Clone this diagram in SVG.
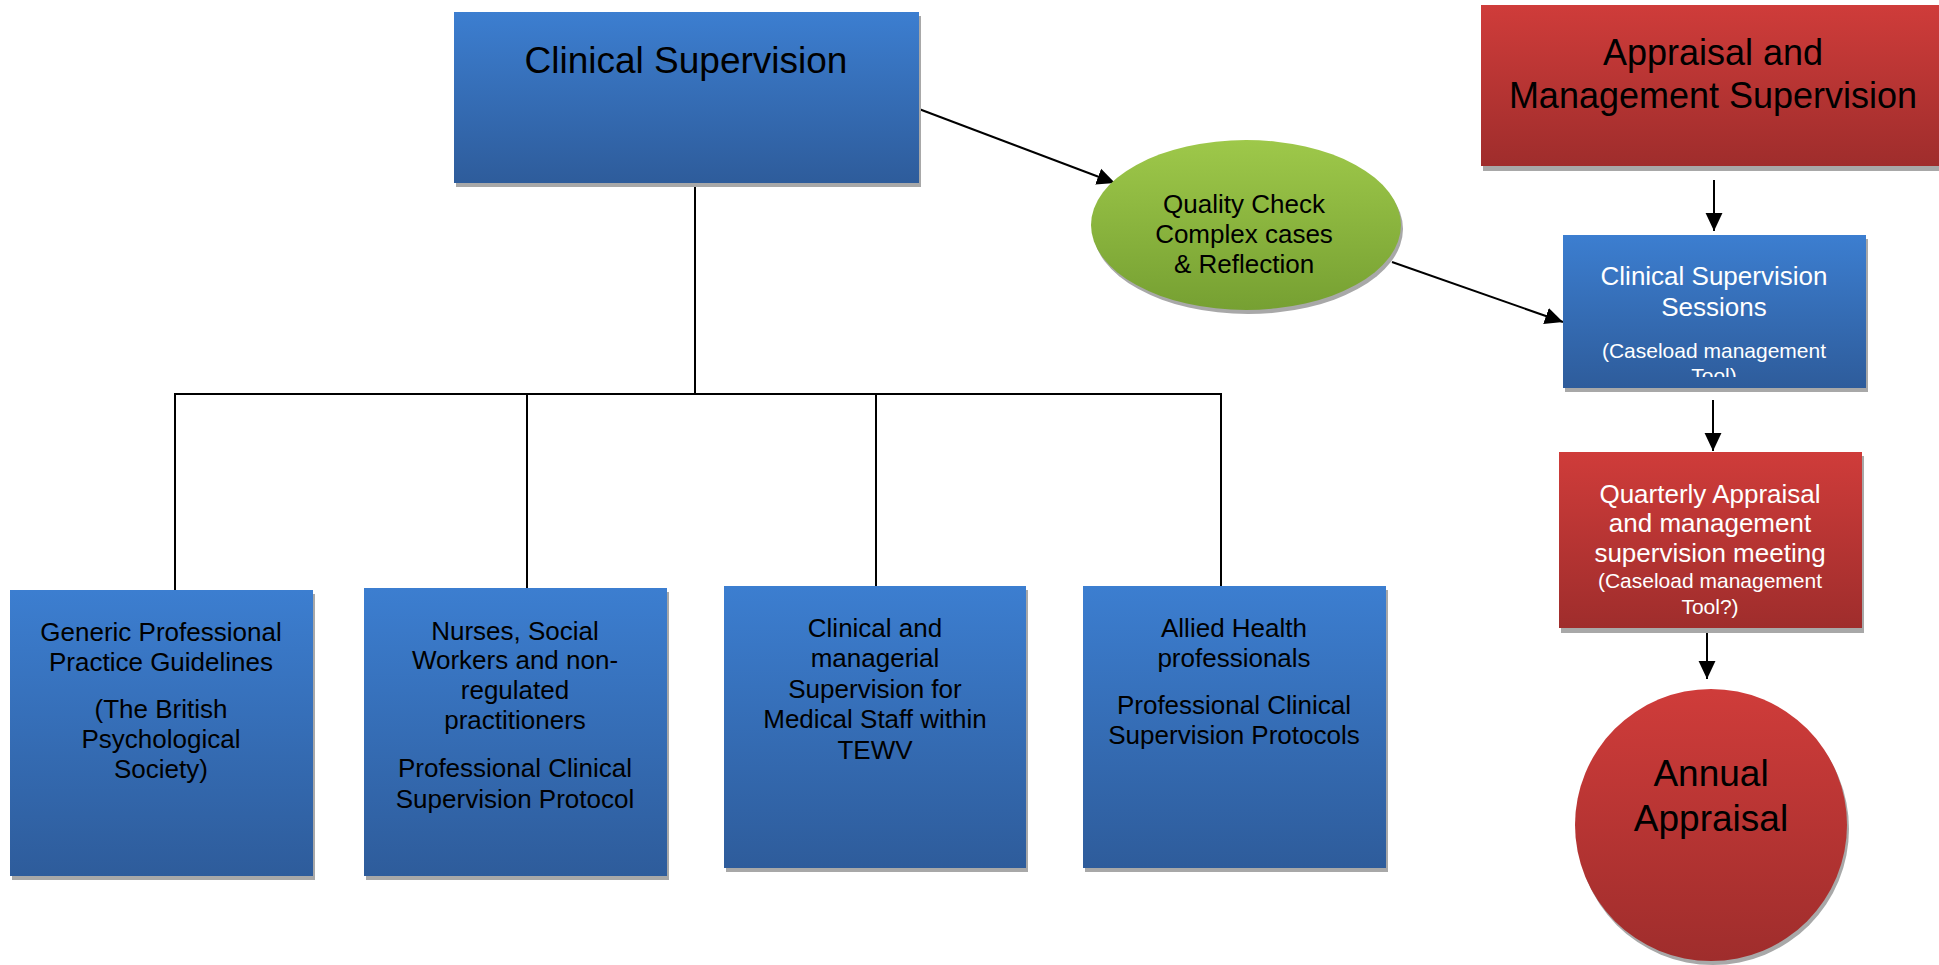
<svg xmlns="http://www.w3.org/2000/svg" width="1939" height="965" viewBox="0 0 1939 965">
<style>
.t{font-family:"Liberation Sans",Arial,sans-serif;text-anchor:middle;fill:#000}
.w{fill:#fff}
.sh{fill:#a8a8a8}
.ln{stroke:#000;stroke-width:2;fill:none}
</style>
<defs>
<linearGradient id="gb" x1="0" y1="0" x2="0" y2="1"><stop offset="0" stop-color="#3c7ed0"/><stop offset="1" stop-color="#2e5c9b"/></linearGradient>
<linearGradient id="gr" x1="0" y1="0" x2="0" y2="1"><stop offset="0" stop-color="#cf3c3a"/><stop offset="1" stop-color="#9f2d2c"/></linearGradient>
<linearGradient id="gg" x1="0" y1="0" x2="0" y2="1"><stop offset="0" stop-color="#9ec84a"/><stop offset="1" stop-color="#76a032"/></linearGradient>
<marker id="ah" markerUnits="userSpaceOnUse" markerWidth="18" markerHeight="18" viewBox="0 0 16 16" refX="16" refY="8" orient="auto"><path d="M0,0.5 L16,8 L0,15.5 Z" fill="#000"/></marker>
<clipPath id="clipCSS"><rect x="1563" y="235" width="303" height="142"/></clipPath>
</defs>

<g id="connectors">
<path class="ln" d="M695,183 V394 M175,394 H1222 M175,393 V590 M527,393 V588 M876,393 V586 M1221,393 V586"/>
<line class="ln" x1="919" y1="109" x2="1115" y2="183" marker-end="url(#ah)"/>
<line class="ln" x1="1392" y1="262" x2="1563" y2="322" marker-end="url(#ah)"/>
<line class="ln" x1="1714" y1="180" x2="1714" y2="231" marker-end="url(#ah)"/>
<line class="ln" x1="1713" y1="400" x2="1713" y2="451" marker-end="url(#ah)"/>
<line class="ln" x1="1707" y1="628" x2="1707" y2="679" marker-end="url(#ah)"/>
</g>

<g id="clinical-supervision">
<rect class="sh" x="456" y="16" width="465" height="171"/>
<rect x="454" y="12" width="465" height="171" fill="url(#gb)"/>
<text class="t" x="686" y="73" font-size="37">Clinical Supervision</text>
</g>

<g id="quality-check">
<ellipse class="sh" cx="1248" cy="229" rx="155" ry="85"/>
<ellipse cx="1246" cy="225" rx="155" ry="85" fill="url(#gg)"/>
<text class="t" font-size="26"><tspan x="1244" y="213">Quality Check</tspan><tspan x="1244" y="243">Complex cases</tspan><tspan x="1244" y="273">&amp; Reflection</tspan></text>
</g>

<g id="appraisal-management">
<rect class="sh" x="1483" y="10" width="458" height="161"/>
<rect x="1481" y="5" width="458" height="161" fill="url(#gr)"/>
<text class="t" font-size="36"><tspan x="1713" y="65">Appraisal and</tspan><tspan x="1713" y="108">Management Supervision</tspan></text>
</g>

<g id="cs-sessions">
<rect class="sh" x="1565" y="239" width="303" height="153"/>
<rect x="1563" y="235" width="303" height="153" fill="url(#gb)"/>
<g clip-path="url(#clipCSS)">
<text class="t w" font-size="26"><tspan x="1714" y="285">Clinical Supervision</tspan><tspan x="1714" y="316">Sessions</tspan></text>
<text class="t w" font-size="21"><tspan x="1714" y="358">(Caseload management</tspan><tspan x="1714" y="383">Tool)</tspan></text>
</g>
</g>

<g id="quarterly-appraisal">
<rect class="sh" x="1561" y="456" width="303" height="177"/>
<rect x="1559" y="452" width="303" height="176" fill="url(#gr)"/>
<text class="t w" font-size="26"><tspan x="1710" y="503">Quarterly Appraisal</tspan><tspan x="1710" y="532">and management</tspan><tspan x="1710" y="562">supervision meeting</tspan></text>
<text class="t w" font-size="21"><tspan x="1710" y="588">(Caseload management</tspan><tspan x="1710" y="614">Tool?)</tspan></text>
</g>

<g id="annual-appraisal">
<circle class="sh" cx="1713" cy="829" r="136"/>
<circle cx="1711" cy="825" r="136" fill="url(#gr)"/>
<text class="t" font-size="37"><tspan x="1711" y="786">Annual</tspan><tspan x="1711" y="831">Appraisal</tspan></text>
</g>

<g id="generic-guidelines">
<rect class="sh" x="12" y="594" width="303" height="286"/>
<rect x="10" y="590" width="303" height="286" fill="url(#gb)"/>
<text class="t" font-size="26"><tspan x="161" y="641">Generic Professional</tspan><tspan x="161" y="671">Practice Guidelines</tspan><tspan x="161" y="718">(The British</tspan><tspan x="161" y="748">Psychological</tspan><tspan x="161" y="778">Society)</tspan></text>
</g>

<g id="nurses-social-workers">
<rect class="sh" x="366" y="592" width="303" height="288"/>
<rect x="364" y="588" width="303" height="288" fill="url(#gb)"/>
<text class="t" font-size="26"><tspan x="515" y="640">Nurses, Social</tspan><tspan x="515" y="669">Workers and non-</tspan><tspan x="515" y="699">regulated</tspan><tspan x="515" y="729">practitioners</tspan><tspan x="515" y="777">Professional Clinical</tspan><tspan x="515" y="808">Supervision Protocol</tspan></text>
</g>

<g id="medical-staff">
<rect class="sh" x="726" y="590" width="302" height="282"/>
<rect x="724" y="586" width="302" height="282" fill="url(#gb)"/>
<text class="t" font-size="26"><tspan x="875" y="637">Clinical and</tspan><tspan x="875" y="667">managerial</tspan><tspan x="875" y="698">Supervision for</tspan><tspan x="875" y="728">Medical Staff within</tspan><tspan x="875" y="759">TEWV</tspan></text>
</g>

<g id="allied-health">
<rect class="sh" x="1085" y="590" width="303" height="282"/>
<rect x="1083" y="586" width="303" height="282" fill="url(#gb)"/>
<text class="t" font-size="26"><tspan x="1234" y="637">Allied Health</tspan><tspan x="1234" y="667">professionals</tspan><tspan x="1234" y="714">Professional Clinical</tspan><tspan x="1234" y="744">Supervision Protocols</tspan></text>
</g>
</svg>
